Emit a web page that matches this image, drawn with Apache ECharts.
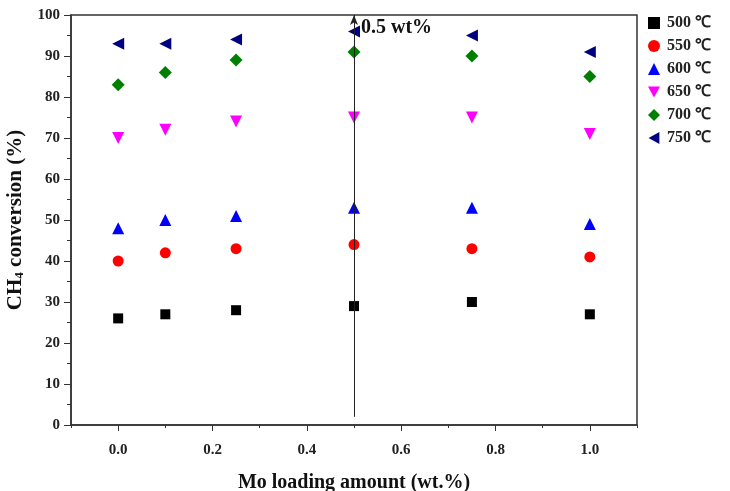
<!DOCTYPE html>
<html>
<head>
<meta charset="utf-8">
<script src="https://cdn.jsdelivr.net/npm/echarts@6/dist/echarts.min.js"></script>
<style>
  html, body { margin: 0; padding: 0; background: #fff; }
  #chart { width: 730px; height: 491px; }
</style>
</head>
<body>
<div id="chart"></div>
<script>
// Mo loading (wt.%) for each sample
const loadings = [0, 0.1, 0.25, 0.5, 0.75, 1.0];
const majorTicks = [0, 0.2, 0.4, 0.6, 0.8, 1.0];
const minorTicks = [-0.1, 0.1, 0.3, 0.5, 0.7, 0.9, 1.1];

// CH4 conversion (%) by temperature
const conv500 = [26, 27, 28, 29, 30, 27];
const conv550 = [40, 42, 43, 44, 43, 41];
const conv600 = [48, 50, 51, 53, 53, 49];
const conv650 = [70, 72, 74, 75, 75, 71];
const conv700 = [83, 86, 89, 91, 90, 85];
const conv750 = [93, 93, 94, 96, 95, 91];

const seriesNames = ['500 ℃', '550 ℃', '600 ℃', '650 ℃', '700 ℃', '750 ℃'];
const markerLine = [2, 100]; // vertical guide at 0.5 wt%

const font = '"Liberation Serif", "Times New Roman", serif';
const axisColor = '#333';

const chart = echarts.init(document.getElementById('chart'));

const pairs = vals => loadings.map((x, i) => [x, vals[i]]);

// down- and left-pointing triangles as paths so the legend shows them too
const downTri = 'path://M0,0 L10,0 L5,9 Z';
const leftTri = 'path://M9,0 L9,10 L0,5 Z';

const styles = [
    { symbol: 'rect', color: '#000000', size: 10 },
    { symbol: 'circle', color: '#ff0000', size: 11 },
    { symbol: 'triangle', color: '#0000ff', size: 12 },
    { symbol: downTri, color: '#ff00ff', size: 12 },
    { symbol: 'diamond', color: '#008000', size: 13 },
    { symbol: leftTri, color: '#000080', size: 12 }
];
const allData = [conv500, conv550, conv600, conv650, conv700, conv750];

const series = allData.map((vals, i) => ({
    name: seriesNames[i],
    type: 'scatter',
    symbol: styles[i].symbol,
    symbolSize: styles[i].size,
    itemStyle: { color: styles[i].color, opacity: 1 },
    data: pairs(vals),
    z: 3
}));

// vertical line with arrow and label
series.push({
    type: 'line',
    data: [],
    silent: true,
    markLine: {
        silent: true,
        symbol: ['none', 'arrow'],
        symbolSize: [6, 10],
        lineStyle: { color: '#222', width: 1, type: 'solid' },
        label: { show: false },
        data: [[{ coord: [0.5, markerLine[0]] }, { coord: [0.5, markerLine[1]] }]]
    },
    markPoint: {
        symbol: 'circle',
        symbolSize: 0,
        label: {
            show: true,
            position: 'right',
            distance: 7,
            offset: [0, 13],
            formatter: '0.5 wt%',
            color: '#111',
            fontFamily: font,
            fontWeight: 'bold',
            fontSize: 20
        },
        data: [{ coord: [0.5, markerLine[1]] }]
    }
});

const option = {
    backgroundColor: '#fff',
    animation: false,
    grid: {
        left: 71, right: 93, top: 15, bottom: 66,
        outerBoundsMode: 'none',
        containLabel: false,
        show: true, borderColor: axisColor, borderWidth: 1.5
    },
    legend: {
        data: seriesNames,
        orient: 'vertical',
        left: 643,
        top: 10,
        itemGap: 7,
        itemWidth: 12,
        itemHeight: 12,
        textStyle: { fontFamily: font, fontWeight: 'bold', fontSize: 16, color: '#222', padding: [0, 0, 0, 2] }
    },
    xAxis: [
        {
            type: 'value',
            min: -0.1,
            max: 1.1,
            name: 'Mo loading amount (wt.%)',
            nameLocation: 'middle',
            nameGap: 48,
            nameTextStyle: { fontFamily: font, fontWeight: 'bold', fontSize: 20, color: '#111' },
            axisLine: { show: true, onZero: false, lineStyle: { color: axisColor, width: 1.5 } },
            axisTick: { show: true, length: 6, customValues: majorTicks, lineStyle: { color: axisColor } },
            axisLabel: {
                customValues: majorTicks,
                margin: 18,
                fontFamily: font, fontWeight: 'bold', fontSize: 15, color: '#222',
                formatter: v => v.toFixed(1)
            },
            splitLine: { show: false }
        },
        {
            type: 'value',
            position: 'bottom',
            min: -0.1,
            max: 1.1,
            axisLine: { show: false, onZero: false },
            axisTick: { show: true, length: 3, customValues: minorTicks, lineStyle: { color: axisColor } },
            axisLabel: { show: false },
            splitLine: { show: false }
        }
    ],
    yAxis: {
        type: 'value',
        min: 0,
        max: 100,
        interval: 10,
        name: '{a|CH}{s|4}{a| conversion (%)}',
        nameLocation: 'middle',
        nameGap: 44,
        nameRotate: 90,
        nameTextStyle: {
            rich: {
                a: { fontFamily: font, fontWeight: 'bold', fontSize: 21, color: '#111' },
                s: { fontFamily: font, fontWeight: 'bold', fontSize: 13, color: '#111', verticalAlign: 'bottom', padding: [10, 0, 0, 0] }
            }
        },
        axisLine: { show: true, onZero: false, lineStyle: { color: axisColor, width: 1.5 } },
        axisTick: { show: true, length: 7, lineStyle: { color: axisColor } },
        minorTick: { show: true, splitNumber: 2, length: 4, lineStyle: { color: axisColor } },
        axisLabel: { margin: 11, fontFamily: font, fontWeight: 'bold', fontSize: 15, color: '#222' },
        splitLine: { show: false }
    },
    series: series
};

chart.setOption(option);
</script>
</body>
</html>
